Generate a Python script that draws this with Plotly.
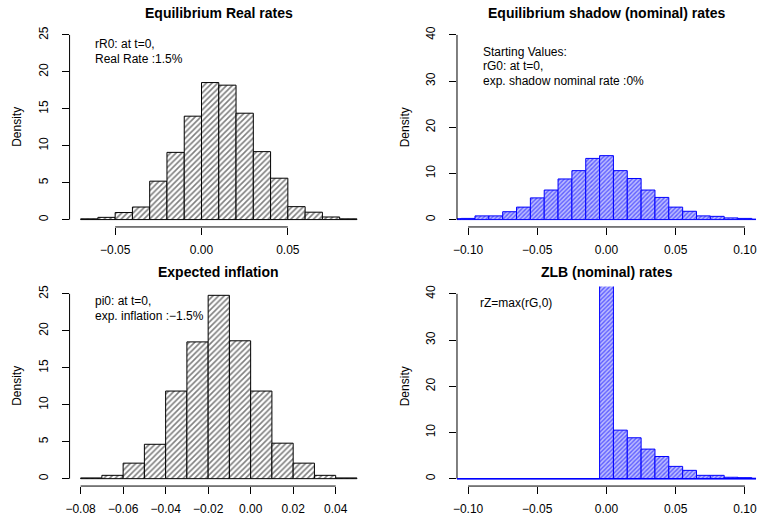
import plotly.graph_objects as go

W, H = 759, 518

# ---------------- data (bin centres, densities) ----------------
rR_bins = [-0.065, -0.055, -0.045, -0.035, -0.025, -0.015, -0.005, 0.005,
           0.015, 0.025, 0.035, 0.045, 0.055, 0.065, 0.075, 0.085]
rR_density = [0.1, 0.3, 0.95, 1.7, 5.2, 9.1, 14.0, 18.55,
              18.2, 14.4, 9.2, 5.6, 1.75, 1.0, 0.35, 0.1]

rG_bins = [-0.11, -0.10, -0.09, -0.08, -0.07, -0.06, -0.05, -0.04, -0.03, -0.02, -0.01,
           0.00, 0.01, 0.02, 0.03, 0.04, 0.05, 0.06, 0.07, 0.08, 0.09, 0.10, 0.11]
rG_density = [0.2, 0.25, 0.8, 0.8, 1.7, 2.7, 4.7, 6.4, 8.8, 10.6, 13.25,
              13.85, 10.6, 8.9, 6.4, 4.8, 2.7, 1.8, 0.8, 0.7, 0.36, 0.25, 0.1]

pi_bins = [-0.075, -0.065, -0.055, -0.045, -0.035, -0.025, -0.015,
           -0.005, 0.005, 0.015, 0.025, 0.035, 0.045]
pi_density = [0.1, 0.45, 2.1, 4.65, 11.85, 18.5, 24.8,
              18.65, 11.85, 4.8, 2.1, 0.45, 0.1]

rZ_bins = rG_bins
rZ_density = [0, 0, 0, 0, 0, 0, 0, 0, 0, 0, 0,
              57.0, 10.5, 8.85, 6.4, 4.8, 2.66, 1.8, 0.72, 0.72, 0.3, 0.22, 0.1]

bin_width = 0.01

titles = ["Equilibrium Real rates", "Equilibrium shadow (nominal) rates",
          "Expected inflation", "ZLB (nominal) rates"]

xt_rR = [-0.05, 0.0, 0.05]
xt_rR_lab = ["\u22120.05", "0.00", "0.05"]
xt_rG = [-0.10, -0.05, 0.0, 0.05, 0.10]
xt_rG_lab = ["\u22120.10", "\u22120.05", "0.00", "0.05", "0.10"]
xt_pi = [-0.08, -0.06, -0.04, -0.02, 0.0, 0.02, 0.04]
xt_pi_lab = ["\u22120.08", "\u22120.06", "\u22120.04", "\u22120.02", "0.00", "0.02", "0.04"]
yt_25 = [0, 5, 10, 15, 20, 25]
yt_40 = [0, 10, 20, 30, 40]

notes = [
    ["rR0: at t=0,", "Real Rate :1.5%"],
    ["Starting Values:", "rG0: at t=0,", "exp. shadow nominal rate :0%"],
    ["pi0: at t=0,", "exp. inflation :\u22121.5%"],
    ["rZ=max(rG,0)"],
]

# ---------------- layout geometry (pixels) ----------------
FONT = "Liberation Sans, Arial, Helvetica, sans-serif"
col_px = [(66, 366.4), (456, 757)]
row_px = [(26.6, 226.4), (286.0, 486.0)]

def xd(c):
    a, b = col_px[c]
    return [a / W, b / W]

def yd(r):
    t, b = row_px[r]
    return [1 - b / H, 1 - t / H]

BLUE_BG = "#bcbcff"
panels = [
    dict(r=0, c=0, bins=rR_bins, dens=rR_density, xr=[-0.0764, 0.0964], yr=[-1, 26],
         xt=xt_rR, xl=xt_rR_lab, yt=yt_25, col="black", bg="white", size=4, sol=0.4),
    dict(r=0, c=1, bins=rG_bins, dens=rG_density, xr=[-0.108, 0.108], yr=[-1.6, 41.6],
         xt=xt_rG, xl=xt_rG_lab, yt=yt_40, col="blue", bg=BLUE_BG, size=3, sol=0.45),
    dict(r=1, c=0, bins=pi_bins, dens=pi_density, xr=[-0.0852, 0.0552], yr=[-1, 26],
         xt=xt_pi, xl=xt_pi_lab, yt=yt_25, col="black", bg="white", size=4, sol=0.4),
    dict(r=1, c=1, bins=rZ_bins, dens=rZ_density, xr=[-0.108, 0.108], yr=[-1.6, 41.6],
         xt=xt_rG, xl=xt_rG_lab, yt=yt_40, col="blue", bg=BLUE_BG, size=3, sol=0.45),
]

fig = go.Figure()
layout = dict(width=W, height=H, margin=dict(l=0, r=0, t=0, b=0),
              paper_bgcolor="white", plot_bgcolor="white", showlegend=False,
              font=dict(family=FONT, size=12, color="black"), bargap=0)
shapes, annotations = [], []

for i, p in enumerate(panels):
    n = i + 1
    sx = "" if n == 1 else str(n)
    xa, ya = "x" + sx, "y" + sx
    fig.add_trace(go.Bar(
        x=p["bins"], y=p["dens"], width=bin_width, xaxis=xa, yaxis=ya,
        marker=dict(color=p["bg"], line=dict(color=p["col"], width=1),
                    pattern=dict(shape="/", fgcolor=p["col"], bgcolor=p["bg"],
                                 size=p["size"], solidity=p["sol"])),
        hoverinfo="skip"))
    xdom, ydom = xd(p["c"]), yd(p["r"])
    axcommon = dict(showgrid=False, zeroline=False, showline=False, ticks="outside",
                    ticklen=7, tickwidth=1, tickcolor="black",
                    ticklabeloverflow="allow",
                    tickfont=dict(family=FONT, size=12, color="black"))
    layout["xaxis" + sx] = dict(domain=xdom, range=p["xr"], anchor=ya,
                                tickmode="array", tickvals=p["xt"], ticktext=p["xl"],
                                ticklabelstandoff=5, **axcommon)
    layout["yaxis" + sx] = dict(domain=ydom, range=p["yr"], anchor=xa,
                                tickmode="array", tickvals=p["yt"],
                                ticktext=[str(v) for v in p["yt"]],
                                tickangle=-90, ticklabelstandoff=9, **axcommon)

    def px(v, dom=xdom, rng=p["xr"]):
        return dom[0] + (v - rng[0]) / (rng[1] - rng[0]) * (dom[1] - dom[0])

    def py(v, dom=ydom, rng=p["yr"]):
        return dom[0] + (v - rng[0]) / (rng[1] - rng[0]) * (dom[1] - dom[0])

    # R-style axis lines spanning first..last tick
    shapes.append(dict(type="line", xref="paper", yref="paper",
                       x0=px(p["xt"][0]), x1=px(p["xt"][-1]), y0=ydom[0], y1=ydom[0],
                       line=dict(color="black", width=1)))
    shapes.append(dict(type="line", xref="paper", yref="paper",
                       x0=xdom[0], x1=xdom[0], y0=py(p["yt"][0]), y1=py(p["yt"][-1]),
                       line=dict(color="black", width=1)))

    # title
    top = row_px[p["r"]][0]
    annotations.append(dict(text="<b>%s</b>" % titles[i], xref="paper", yref="paper",
                            x=(xdom[0] + xdom[1]) / 2, y=1 - (top - 14.3) / H,
                            xanchor="center", yanchor="middle", showarrow=False,
                            font=dict(family=FONT, size=14, color="black")))
    # ylabel
    left = col_px[p["c"]][0]
    annotations.append(dict(text="Density", xref="paper", yref="paper",
                            x=(left - 52.3) / W, y=(ydom[0] + ydom[1]) / 2,
                            xanchor="center", yanchor="middle", textangle=-90,
                            showarrow=False, font=dict(family=FONT, size=12, color="black")))

# baseline for ZLB panel (zero-density bins drawn as flat border)
shapes.append(dict(type="line", xref="x4 domain", yref="y4", x0=0, x1=1, y0=0, y1=0,
                   line=dict(color="blue", width=1.5)))

# annotation texts (left x px, first-line y px, spacing)
note_pos = [(90, 43.3), (480, 50.7), (90, 301.0), (476.7, 303.0)]
for lines, (nx, ny) in zip(notes, note_pos):
    for k, t in enumerate(lines):
        annotations.append(dict(text=t, xref="paper", yref="paper",
                                x=nx / W, y=1 - (ny + 14.5 * k) / H,
                                xanchor="left", yanchor="middle", showarrow=False,
                                font=dict(family=FONT, size=12, color="black")))

layout["shapes"] = shapes
layout["annotations"] = annotations
fig.update_layout(**layout)
fig.write_html("out.html", config={"displayModeBar": False, "staticPlot": True},
               post_script="document.body.style.margin='0';document.body.style.overflow='hidden';")
